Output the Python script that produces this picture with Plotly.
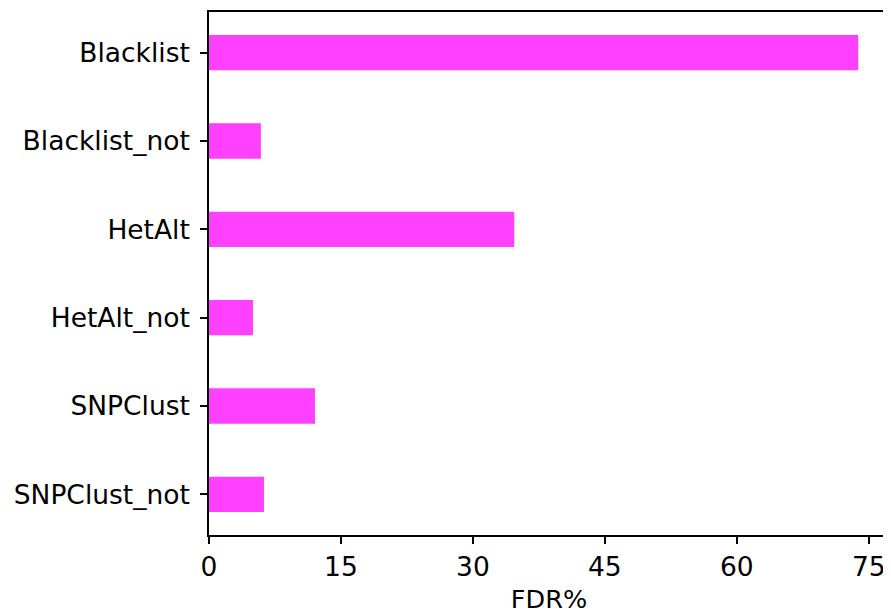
import plotly.graph_objects as go

categories = ["Blacklist", "Blacklist_not", "HetAlt", "HetAlt_not", "SNPClust", "SNPClust_not"]
fdr_values = [73.8, 5.9, 34.7, 5.0, 12.05, 6.25]
x_ticks = [0, 15, 30, 45, 60, 75]

fig = go.Figure(go.Bar(
    x=fdr_values,
    y=categories,
    orientation="h",
    width=0.4,
    marker=dict(color="#ff40ff", line=dict(width=0)),
))

fig.update_layout(
    width=891, height=614,
    margin=dict(l=201, r=10, t=4, b=87, autoexpand=False),
    plot_bgcolor="white", paper_bgcolor="white",
    font=dict(family="DejaVu Sans", size=26.5, color="black"),
    showlegend=False,
)
fig.update_xaxes(
    range=[0, 77.3], tickvals=x_ticks, ticks="outside", ticklen=7, tickwidth=1.5,
    tickcolor="black", showline=True, linecolor="black", linewidth=1.6, mirror=True,
    showgrid=False, zeroline=False,
    title=dict(text="FDR%", standoff=10, font=dict(size=25.5)), automargin=False,
)
fig.update_yaxes(
    categoryorder="array", categoryarray=categories, autorange=False,
    range=[5.46, -0.46], ticks="outside", ticklen=7, tickwidth=1.5, tickcolor="black",
    showline=True, linecolor="black", linewidth=1.6, mirror=True, showgrid=False,
    ticklabelstandoff=5, automargin=False,
)

fig.write_html("out.html")
